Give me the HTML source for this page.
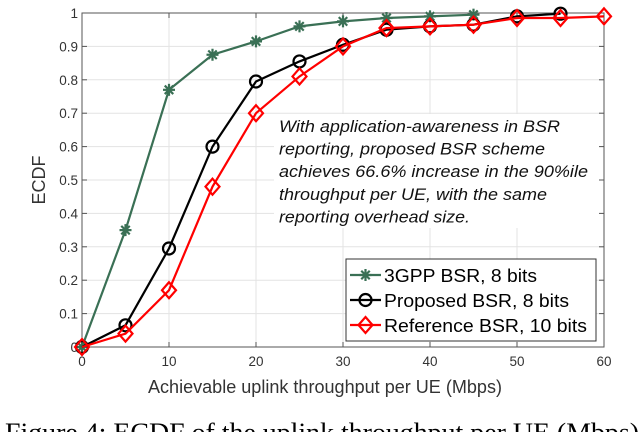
<!DOCTYPE html>
<html><head><meta charset="utf-8"><style>
body{margin:0;background:#fff;width:640px;height:432px;overflow:hidden}
svg{display:block}
text{font-family:"Liberation Sans",sans-serif}
</style></head><body>
<svg id="c" width="640" height="432"></svg>
<script>
const xTicks=[0,10,20,30,40,50,60];
const yTicks=[0,0.1,0.2,0.3,0.4,0.5,0.6,0.7,0.8,0.9,1];
const yTickLabels=['0','0.1','0.2','0.3','0.4','0.5','0.6','0.7','0.8','0.9','1'];
const xs3gpp=[0,5,10,15,20,25,30,35,40,45];
const ys3gpp=[0,0.35,0.77,0.875,0.915,0.96,0.975,0.985,0.99,0.995];
const xsProp=[0,5,10,15,20,25,30,35,40,45,50,55];
const ysProp=[0,0.065,0.295,0.6,0.795,0.855,0.905,0.95,0.96,0.965,0.99,0.998];
const xsRef=[0,5,10,15,20,25,30,35,40,45,50,55,60];
const ysRef=[0,0.04,0.17,0.48,0.70,0.81,0.90,0.955,0.96,0.965,0.985,0.985,0.99];
const NS='http://www.w3.org/2000/svg';
const svg=document.getElementById('c');
const L=82,R=604,T=13,B=347;
const X=v=>L+(v/60)*(R-L), Y=v=>B-v*(B-T);
function el(t,a,p){const e=document.createElementNS(NS,t);for(const k in a)e.setAttribute(k,a[k]);(p||svg).appendChild(e);return e;}
const grid=el('g',{});


xTicks.forEach(v=>{el('line',{x1:X(v),x2:X(v),y1:T,y2:B,stroke:'#e3e3e3','stroke-width':1},grid);});
yTicks.forEach(v=>{el('line',{x1:L,x2:R,y1:Y(v),y2:Y(v),stroke:'#e3e3e3','stroke-width':1},grid);});
const ab=el('rect',{x:274,y:114,width:326,height:114,fill:'#fff'});


const ax=el('g',{});


el('rect',{x:L,y:T,width:R-L,height:B-T,fill:'none',stroke:'#555','stroke-width':1},ax);
xTicks.forEach(v=>{el('line',{x1:X(v),x2:X(v),y1:B,y2:B-5,stroke:'#555'},ax);el('line',{x1:X(v),x2:X(v),y1:T,y2:T+5,stroke:'#555'},ax);
 const t=el('text',{x:X(v),y:B+19,'text-anchor':'middle','font-size':13.5,fill:'#333'},ax);t.textContent=v;
 
 });
yTicks.forEach((v,i)=>{el('line',{x1:L,x2:L+5,y1:Y(v),y2:Y(v),stroke:'#555'},ax);el('line',{x1:R,x2:R-5,y1:Y(v),y2:Y(v),stroke:'#555'},ax);
 const t=el('text',{x:L-4,y:Y(v)+5,'text-anchor':'end','font-size':13.5,fill:'#333'},ax);t.textContent=yTickLabels[i];
 
 });
function marker(type,x,y,c,g){
 if(type==='star'){for(let a=0;a<4;a++){const an=a*Math.PI/4;el('line',{x1:x-6*Math.cos(an),y1:y-6*Math.sin(an),x2:x+6*Math.cos(an),y2:y+6*Math.sin(an),stroke:c,'stroke-width':2.2},g);}}
 else if(type==='circle'){el('circle',{cx:x,cy:y,r:6,fill:'none',stroke:c,'stroke-width':2.2},g);}
 else {el('polygon',{points:`${x},${y-8} ${x+7},${y} ${x},${y+8} ${x-7},${y}`,fill:'none',stroke:c,'stroke-width':2.2},g);}
}
function series(xs,ys,c,type,name){
 const g=el('g',{});
 
 
 el('polyline',{points:xs.map((v,i)=>X(v)+','+Y(ys[i])).join(' '),fill:'none',stroke:c,'stroke-width':2.2},g);
 xs.forEach((v,i)=>marker(type,X(v),Y(ys[i]),c,g));
}
series(xs3gpp,ys3gpp,'#3a7055','star','series-3gpp-bsr');
series(xsProp,ysProp,'#000','circle','series-proposed-bsr');
series(xsRef,ysRef,'#ff0000','diamond','series-reference-bsr');
const lines=['With application-awareness in BSR','reporting, proposed BSR scheme','achieves 66.6% increase in the 90%ile','throughput per UE, with the same','reporting overhead size.'];
const lens=[281,266,309,268,191];
const ag=el('g',{});


lines.forEach((s,i)=>{const t=el('text',{x:279,y:132+i*22.6,'font-size':17,'font-style':'italic',fill:'#111',textLength:lens[i],lengthAdjust:'spacingAndGlyphs'},ag);t.textContent=s;});
const lg=el('g',{});


el('rect',{x:346,y:259,width:250,height:82,fill:'#fff',stroke:'#333','stroke-width':1},lg);
const leg=[['3GPP BSR, 8 bits','#3a7055','star',153],['Proposed BSR, 8 bits','#000','circle',185],['Reference BSR, 10 bits','#ff0000','diamond',203]];
leg.forEach((d,i)=>{const y=275+i*25;const g=el('g',{},lg);
 
 
 el('line',{x1:350,x2:381,y1:y,y2:y,stroke:d[1],'stroke-width':2.2},g);marker(d[2],365.5,y,d[1],g);
 const t=el('text',{x:384,y:y+7,'font-size':18,fill:'#000',textLength:d[3],lengthAdjust:'spacingAndGlyphs'},g);t.textContent=d[0];});
const xl=el('text',{x:148,y:393,'font-size':18,fill:'#333',textLength:354,lengthAdjust:'spacingAndGlyphs'});xl.textContent='Achievable uplink throughput per UE (Mbps)';


const yl=el('text',{x:0,y:0,'text-anchor':'middle','font-size':18,fill:'#333',transform:'translate(45,180) rotate(-90)'});yl.textContent='ECDF';


const cap=el('text',{x:5,y:441,'font-size':26,fill:'#000',textLength:634,lengthAdjust:'spacingAndGlyphs'});cap.textContent='Figure 4: ECDF of the uplink throughput per UE (Mbps)';
cap.setAttribute('style','font-family:"Liberation Serif",serif');


</script>
</body></html>
